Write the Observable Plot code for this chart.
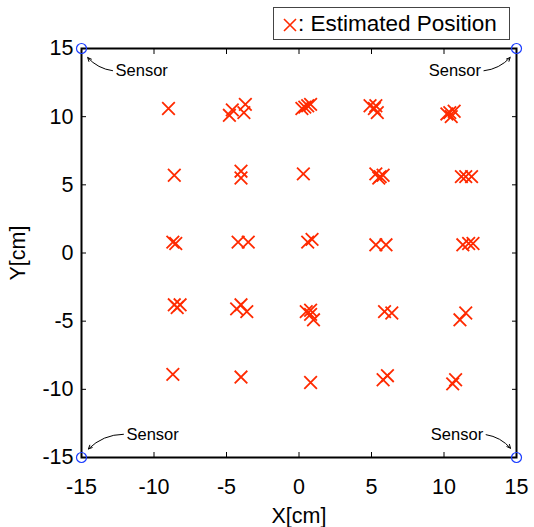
<!DOCTYPE html>
<html>
<head>
<meta charset="utf-8">
<script src="https://cdn.jsdelivr.net/npm/d3@7"></script>
<script src="https://cdn.jsdelivr.net/npm/@observablehq/plot@0.6"></script>
<style>
  body { margin: 0; background: #fff; }
  #wrap { position: relative; width: 534px; height: 527px; font-family: "Liberation Sans", Arial, Helvetica, sans-serif; }
  #legend { position: absolute; left: 273px; top: 7px; width: 237px; height: 33px; border: 1px solid #444; background: #fff;
            font-size: 22.5px; line-height: 31px; box-sizing: border-box; padding-left: 9px; color: #000; white-space: nowrap; }
  #legend svg { vertical-align: -1px; margin-right: 1px; }
</style>
</head>
<body>
<div id="wrap"><div id="legend"><svg width="14" height="14" viewBox="0 0 14 14"><path d="M1,1L13,13M13,1L1,13" stroke="#ff2a00" stroke-width="1.6"/></svg>: Estimated Position</div></div>
<script>
// Estimated positions (cm)
const estX = [
  -9.0, -4.6, -4.8, -3.7, -3.8, 0.2, 0.4, 0.8, 0.6, 4.9, 5.2, 5.4, 5.3, 10.2, 10.5, 10.7, 10.4,
  -8.6, -4.0, -4.0, 0.3, 5.3, 5.6, 5.8, 5.5, 11.2, 11.5, 11.9,
  -8.7, -8.5, -4.2, -3.5, 0.6, 0.9, 5.3, 6.0, 11.3, 11.7, 12.0,
  -8.6, -8.4, -8.2, -4.3, -4.0, -3.6, 0.5, 0.8, 1.0, 0.8, 5.9, 6.4, 11.1, 11.5,
  -8.7, -4.0, 0.8, 5.8, 6.1, 10.6, 10.8
];
const estY = [
  10.6, 10.5, 10.1, 10.9, 10.3, 10.6, 10.7, 10.9, 10.8, 10.8, 10.6, 10.3, 10.8, 10.2, 10.0, 10.4, 10.3,
  5.7, 6.0, 5.5, 5.8, 5.8, 5.6, 5.7, 5.5, 5.6, 5.6, 5.6,
  0.8, 0.7, 0.8, 0.8, 0.8, 1.0, 0.6, 0.6, 0.6, 0.7, 0.7,
  -3.8, -4.0, -3.8, -4.1, -3.8, -4.3, -4.3, -4.5, -4.9, -4.2, -4.3, -4.4, -4.9, -4.4,
  -8.9, -9.1, -9.5, -9.3, -9.0, -9.6, -9.3
];
// Sensors at corners
const sensorX = [-15, 15, -15, 15];
const sensorY = [15, 15, -15, -15];
// Sensor label anchors (cm) and text anchor
const labelX = [-12.65, 12.55, -11.9, 12.7];
const labelY = [13.35, 13.35, -13.3, -13.3];
const labelAnchor = ["start", "end", "start", "end"];
const labelText = ["Sensor", "Sensor", "Sensor", "Sensor"];
const ticks = [-15, -10, -5, 0, 5, 10, 15];

const points = estX.map((x, i) => ({x, y: estY[i]}));
const sensors = sensorX.map((x, i) => ({
  x, y: sensorY[i], lx: labelX[i], ly: labelY[i], anchor: labelAnchor[i], text: labelText[i]
}));
const diagA = d => (d.x < 0) === (d.y > 0);   // top-left & bottom-right
const diagB = d => !diagA(d);                 // top-right & bottom-left

const font = "Liberation Sans, Arial, Helvetica, sans-serif";
const fmt = d => String(d);
const arrowOpts = {x1: "lx", y1: "ly", x2: "x", y2: "y", stroke: "#000", strokeWidth: 1,
  headLength: 6, headAngle: 50, insetStart: 3, insetEnd: 11};

const chart = Plot.plot({
  width: 534,
  height: 527,
  marginLeft: 81,
  marginRight: 18,
  marginTop: 48,
  marginBottom: 70,
  style: {fontFamily: font, background: "#fff", color: "#000"},
  x: {domain: [-15, 15]},
  y: {domain: [-15, 15]},
  marks: [
    // inward ticks on all four sides
    Plot.axisX(ticks, {anchor: "bottom", tickSize: -5, tickFormat: () => "", strokeWidth: 1}),
    Plot.axisX(ticks, {anchor: "top", tickSize: -5, tickFormat: () => "", strokeWidth: 1}),
    Plot.axisY(ticks, {anchor: "left", tickSize: -5, tickFormat: () => "", strokeWidth: 1}),
    Plot.axisY(ticks, {anchor: "right", tickSize: -5, tickFormat: () => "", strokeWidth: 1}),
    Plot.axisX(ticks, {anchor: "bottom", tickSize: 0, tickPadding: 21, tickFormat: fmt, fontSize: 21.5,
      label: "X[cm]", labelAnchor: "center", labelArrow: "none", labelOffset: 65}),
    Plot.axisY(ticks, {anchor: "left", tickSize: 0, tickPadding: 8, tickFormat: fmt, fontSize: 21.5,
      label: "Y[cm]", labelAnchor: "center", labelArrow: "none", labelOffset: 72}),
    Plot.frame({stroke: "#000", strokeWidth: 2}),
    Plot.dot(points, {x: "x", y: "y", symbol: "times", r: 5.8, stroke: "#ff2a00", strokeWidth: 1.8}),
    Plot.arrow(sensors, {...arrowOpts, bend: 30, filter: diagA}),
    Plot.arrow(sensors, {...arrowOpts, bend: -30, filter: diagB}),
    Plot.text(sensors, {x: "lx", y: "ly", text: "text", textAnchor: "start", fontSize: 16.5, fill: "#000",
      filter: d => d.anchor === "start"}),
    Plot.text(sensors, {x: "lx", y: "ly", text: "text", textAnchor: "end", fontSize: 16.5, fill: "#000",
      filter: d => d.anchor === "end"}),
    Plot.dot(sensors, {x: "x", y: "y", r: 5, stroke: "#1a3cff", strokeWidth: 1.2, fill: "none"})
  ]
});
document.getElementById("wrap").prepend(chart);
</script>
</body>
</html>
